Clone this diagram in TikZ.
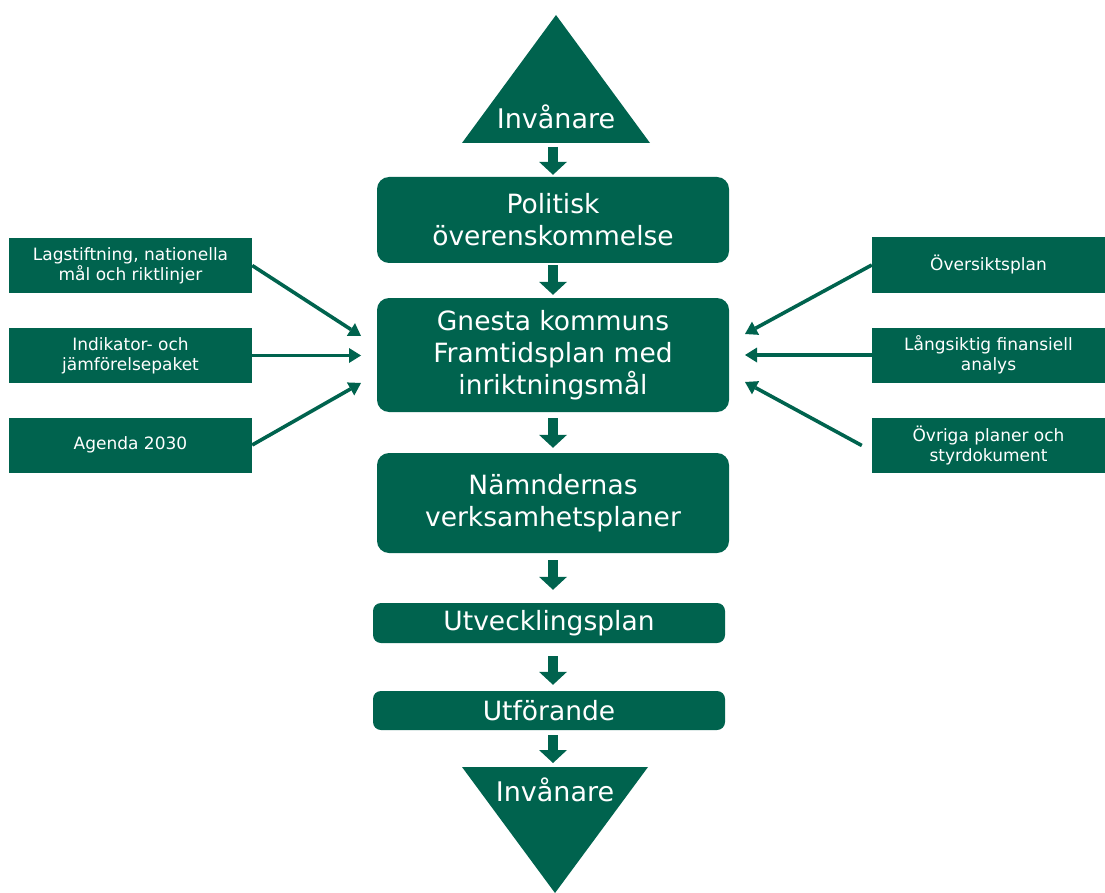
\documentclass[tikz,border=0pt]{standalone}
\usepackage{fontspec}
\setmainfont{DejaVu Sans}
\usetikzlibrary{arrows.meta}
\definecolor{gnestagron}{RGB}{0,99,78}

\begin{document}
\begin{tikzpicture}[x=1pt,y=-1pt,
    storbox/.style={fill=gnestagron, rounded corners=12pt, text=white, align=center,
        font=\fontsize{26.5}{32}\selectfont, minimum width=352pt, inner sep=0pt},
    litenbox/.style={fill=gnestagron, text=white, align=center,
        font=\fontsize{17}{20}\selectfont, minimum height=55pt, inner sep=0pt},
    trtext/.style={text=white, font=\fontsize{27}{32}\selectfont, inner sep=0pt},
    blockpil/.style={draw=gnestagron, line width=10pt,
        -{Triangle[width=28pt,length=13pt,line width=0pt]}},
    pil/.style={draw=gnestagron, line width=3.6pt,
        -{Triangle[width=15pt,length=12pt,line width=0pt]}}]

    \useasboundingbox (0,0) rectangle (1105,893);

    %Invanare overst
    \fill[gnestagron] (556,15) -- (650,143) -- (462,143) -- cycle;
    \node[trtext] (inv1) at (556,117) {Invånare};
    \coordinate (bas1) at (553,143);

    %Mittkolumnen
    \node[storbox, minimum height=86pt] (pol) at (553,220) {Politisk\\överenskommelse};
    \node[storbox, minimum height=114pt] (gfp) at (553,355) {Gnesta kommuns\\Framtidsplan med\\inriktningsmål};
    \node[storbox, minimum height=100pt] (namnd) at (553,503) {Nämndernas\\verksamhetsplaner};
    \node[storbox, minimum height=40pt, rounded corners=8pt] (utv) at (549,623) {Utvecklingsplan};
    \node[storbox, minimum height=39pt, rounded corners=8pt] (utf) at (549,710.5) {Utförande};

    %Invanare nederst
    \fill[gnestagron] (462,767) -- (648,767) -- (555,893) -- cycle;
    \node[trtext] (inv2) at (555,790) {Invånare};
    \coordinate (bas2) at (553,767);

    %Pilar mellan stegen
    \draw[blockpil, shorten <=4pt, shorten >=2pt] (bas1) -- (pol.north);
    \draw[blockpil, shorten <=2pt, shorten >=3pt] (pol.south) -- (gfp.north);
    \draw[blockpil, shorten <=6pt, shorten >=5pt] (gfp.south) -- (namnd.north);
    \draw[blockpil, shorten <=7pt, shorten >=13pt] (namnd.south) -- (namnd.south |- utv.north);
    \draw[blockpil, shorten <=13pt, shorten >=6pt] (namnd.south |- utv.south) -- (namnd.south |- utf.north);
    \draw[blockpil, shorten <=5pt, shorten >=4pt] (namnd.south |- utf.south) -- (bas2);

    %Rutor till vanster
    \node[litenbox, minimum width=243pt] (lag) at (130.5,265.5) {Lagstiftning, nationella\\mål och riktlinjer};
    \node[litenbox, minimum width=243pt] (ind) at (130.5,355.5) {Indikator- och\\jämförelsepaket};
    \node[litenbox, minimum width=243pt] (agenda) at (130.5,445) {Agenda 2030};

    %Rutor till hoger
    \node[litenbox, minimum width=233pt] (osp) at (988.5,265) {Översiktsplan};
    \node[litenbox, minimum width=233pt] (lfa) at (988.5,355) {Långsiktig finansiell\\analys};
    \node[litenbox, minimum width=233pt] (ovr) at (988.5,445.5) {Övriga planer och\\styrdokument};

    %Pilar in mot framtidsplanen
    \coordinate (inV1) at (361,336);
    \coordinate (inV2) at (361,355.5);
    \coordinate (inV3) at (361,383);
    \coordinate (inH1) at (745,334);
    \coordinate (inH2) at (745,355);
    \coordinate (inH3) at (745,382);
    \draw[pil] (lag.east) -- (inV1);
    \draw[pil] (ind.east) -- (inV2);
    \draw[pil] (agenda.east) -- (inV3);
    \draw[pil] (osp.west) -- (inH1);
    \draw[pil] (lfa.west) -- (inH2);
    \draw[pil] ([xshift=-10pt]ovr.west) -- (inH3);

\end{tikzpicture}
\end{document}
